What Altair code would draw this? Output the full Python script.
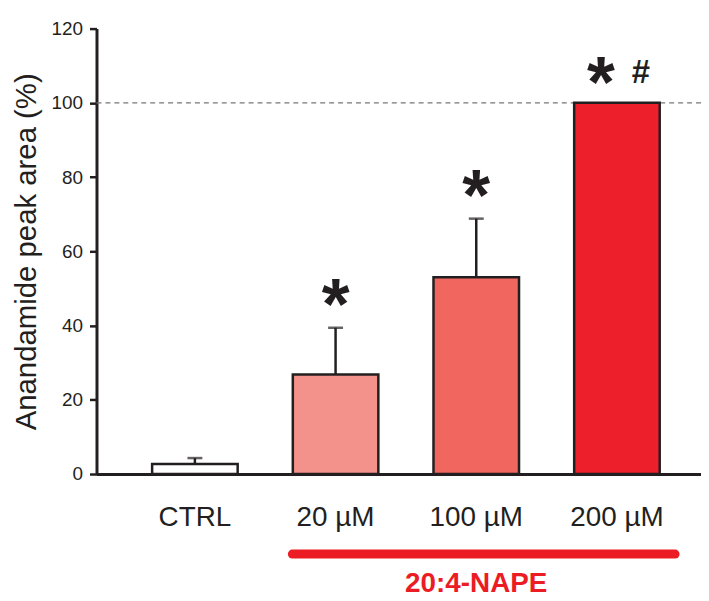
import altair as alt
import pandas as pd

categories = ["CTRL", "20 µM", "100 µM", "200 µM"]
means = [2.7, 26.8, 53.0, 100.0]
sems = [1.6, 12.6, 15.8, 0.0]
bar_colors = ["#FFFFFF", "#F3918B", "#F1665F", "#EC1F2B"]
star_groups = ["20 µM", "100 µM"]
group_label = "20:4-NAPE"
group_start, group_end, group_center = "20 µM", "200 µM", "100 µM"

DARK = "#231F20"
RED = "#EC1C24"
FONT = "Liberation Sans"
W, H = 608, 448

df = pd.DataFrame({"cond": categories, "mean": means, "sem": sems})
df["upper"] = df["mean"] + df["sem"]
df_err = df[df["sem"] > 0]
df_star = df[df["cond"].isin(star_groups)]
df_top = df[df["cond"] == "200 µM"]

x_enc = alt.X(
    "cond:N",
    sort=categories,
    scale=alt.Scale(domain=categories, paddingInner=0.392, paddingOuter=0.3445, align=0.574),
    axis=alt.Axis(title=None, labelAngle=0, ticks=False, domain=True, domainWidth=3,
                  domainColor=DARK, labelFontSize=28, labelFont=FONT, labelColor=DARK,
                  labelPadding=30),
)
y_scale = alt.Scale(domain=[0, 120], nice=False)
y_axis = alt.Axis(title="Anandamide peak area (%)", values=[0, 20, 40, 60, 80, 100, 120],
                  grid=False, domainWidth=3, domainColor=DARK, tickColor=DARK, tickWidth=2.5,
                  tickSize=7, labelFontSize=19, labelFont=FONT, labelColor=DARK, labelPadding=7,
                  titleFontSize=29.5, titleFont=FONT, titleFontWeight="normal", titleColor=DARK,
                  titlePadding=10)

ref = alt.Chart(pd.DataFrame({"v": [100]})).mark_rule(
    color="#777777", strokeDash=[5, 4], strokeWidth=1.3
).encode(y=alt.Y("v:Q", scale=y_scale, axis=y_axis))

err = alt.Chart(df_err).mark_rule(color=DARK, strokeWidth=2.5).encode(
    x=x_enc, y=alt.Y("mean:Q", scale=y_scale), y2="upper:Q")
cap = alt.Chart(df_err).mark_tick(orient="horizontal", size=15, thickness=2.5, color=DARK).encode(
    x=x_enc, y=alt.Y("upper:Q", scale=y_scale))

bars = alt.Chart(df).mark_bar(stroke=DARK, strokeWidth=2.5).encode(
    x=x_enc,
    y=alt.Y("mean:Q", scale=y_scale, axis=y_axis),
    fill=alt.Fill("cond:N", scale=alt.Scale(domain=categories, range=bar_colors), legend=None),
)

stars = alt.Chart(df_star).mark_text(
    text="*", font=FONT, fontWeight="bold", fontSize=72, color=DARK, baseline="middle", dy=-21
).encode(x=x_enc, y=alt.Y("upper:Q", scale=y_scale))
star_top = alt.Chart(df_top).mark_text(
    text="*", font=FONT, fontWeight="bold", fontSize=72, color=DARK, baseline="middle", dy=-18, dx=-16
).encode(x=x_enc, y=alt.Y("upper:Q", scale=y_scale))
hash_top = alt.Chart(df_top).mark_text(
    text="#", font=FONT, fontWeight="bold", fontSize=33, color=DARK, baseline="middle", dy=-30, dx=24
).encode(x=x_enc, y=alt.Y("upper:Q", scale=y_scale))

grp = pd.DataFrame({"cond": [group_start], "cond2": [group_end]})
bracket = alt.Chart(grp).mark_rule(
    color=RED, strokeWidth=9, strokeCap="round", xOffset=-43.5, x2Offset=58.5
).encode(x=x_enc, x2=alt.X2("cond2:N"), y=alt.value(H + 80.5))

grp_txt = pd.DataFrame({"cond": [group_center], "label": [group_label]})
grp_label = alt.Chart(grp_txt).mark_text(
    font=FONT, fontWeight="bold", fontSize=28, color=RED, baseline="middle"
).encode(x=x_enc, y=alt.value(H + 111), text="label:N")

chart = alt.layer(ref, err, cap, bars, stars, star_top, hash_top, bracket, grp_label).properties(
    width=W, height=H,
    autosize=alt.AutoSizeParams(type="none"),
    padding={"left": 89, "top": 19, "right": 0, "bottom": 126},
).configure_view(strokeWidth=0)

chart.save("out.html", embed_options={"renderer": "svg", "actions": False})
